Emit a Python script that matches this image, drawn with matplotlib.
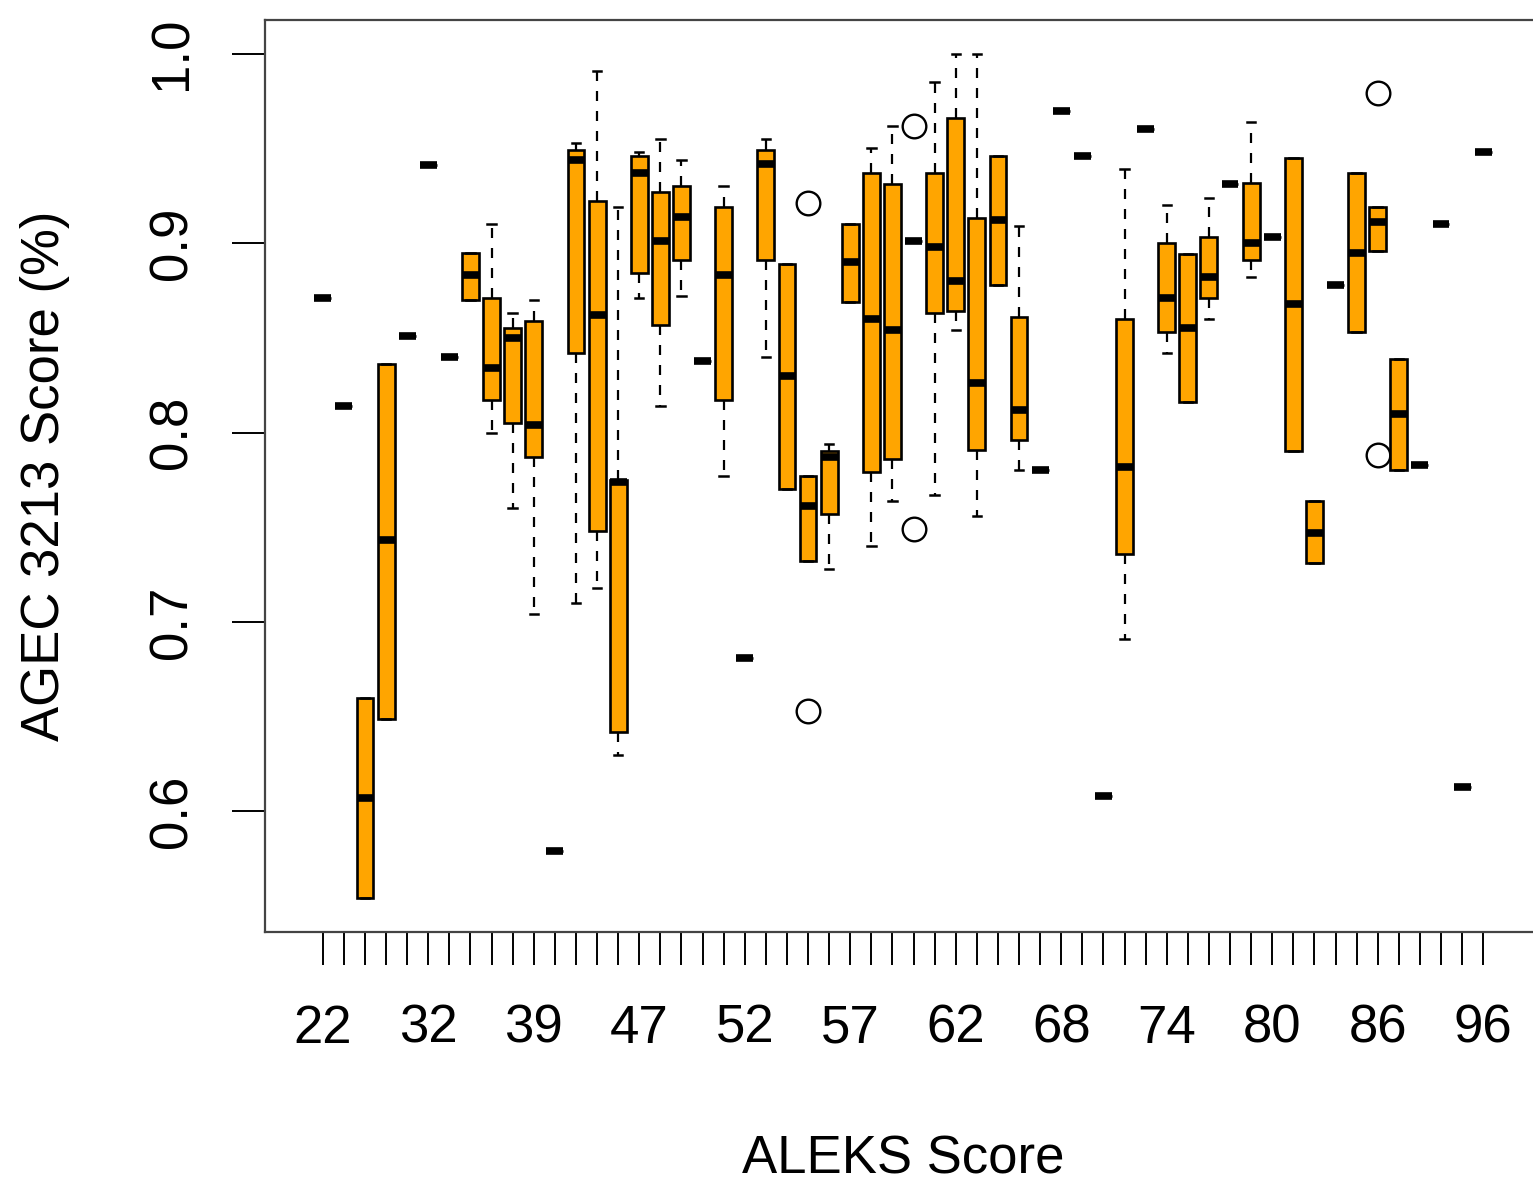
import matplotlib
matplotlib.use("Agg")
import matplotlib.pyplot as plt

plt.rcParams['font.family'] = ['Liberation Sans', 'DejaVu Sans']

# ---- data ----
# 56 ALEKS score groups, positions 1..56; only every 5th label is shown
shown_labels = ["22", "32", "39", "47", "52", "57", "62", "68", "74", "80", "86", "96"]

whislo = [0.871, 0.814, 0.554, 0.649, 0.851, 0.941, 0.840, 0.870, 0.800, 0.760,
          0.704, 0.579, 0.710, 0.718, 0.630, 0.871, 0.814, 0.872, 0.838, 0.777,
          0.681, 0.840, 0.770, 0.732, 0.728, 0.869, 0.740, 0.764, 0.901, 0.767,
          0.854, 0.756, 0.878, 0.780, 0.780, 0.970, 0.946, 0.608, 0.691, 0.960,
          0.842, 0.816, 0.860, 0.931, 0.882, 0.903, 0.790, 0.731, 0.878, 0.853,
          0.896, 0.780, 0.783, 0.910, 0.613, 0.948]
q1 = [0.871, 0.814, 0.554, 0.649, 0.851, 0.941, 0.840, 0.870, 0.817, 0.805,
      0.787, 0.579, 0.842, 0.748, 0.642, 0.884, 0.857, 0.891, 0.838, 0.817,
      0.681, 0.891, 0.770, 0.732, 0.757, 0.869, 0.779, 0.786, 0.901, 0.863,
      0.864, 0.791, 0.878, 0.796, 0.780, 0.970, 0.946, 0.608, 0.736, 0.960,
      0.853, 0.816, 0.871, 0.931, 0.891, 0.903, 0.790, 0.731, 0.878, 0.853,
      0.896, 0.780, 0.783, 0.910, 0.613, 0.948]
med = [0.871, 0.814, 0.607, 0.743, 0.851, 0.941, 0.840, 0.883, 0.834, 0.850,
       0.804, 0.579, 0.944, 0.862, 0.774, 0.937, 0.901, 0.914, 0.838, 0.883,
       0.681, 0.942, 0.830, 0.761, 0.787, 0.890, 0.860, 0.854, 0.901, 0.898,
       0.880, 0.826, 0.912, 0.812, 0.780, 0.970, 0.946, 0.608, 0.782, 0.960,
       0.871, 0.855, 0.882, 0.931, 0.900, 0.903, 0.868, 0.747, 0.878, 0.895,
       0.911, 0.810, 0.783, 0.910, 0.613, 0.948]
q3 = [0.871, 0.814, 0.660, 0.836, 0.851, 0.941, 0.840, 0.895, 0.871, 0.855,
      0.859, 0.579, 0.949, 0.922, 0.775, 0.946, 0.927, 0.930, 0.838, 0.919,
      0.681, 0.949, 0.889, 0.777, 0.790, 0.910, 0.937, 0.931, 0.901, 0.937,
      0.966, 0.913, 0.946, 0.861, 0.780, 0.970, 0.946, 0.608, 0.860, 0.960,
      0.900, 0.894, 0.903, 0.931, 0.932, 0.903, 0.945, 0.764, 0.878, 0.937,
      0.919, 0.839, 0.783, 0.910, 0.613, 0.948]
whishi = [0.871, 0.814, 0.660, 0.836, 0.851, 0.941, 0.840, 0.895, 0.910, 0.863,
          0.870, 0.579, 0.953, 0.991, 0.919, 0.948, 0.955, 0.944, 0.838, 0.930,
          0.681, 0.955, 0.889, 0.777, 0.794, 0.910, 0.950, 0.962, 0.901, 0.985,
          1.000, 1.000, 0.946, 0.909, 0.780, 0.970, 0.946, 0.608, 0.939, 0.960,
          0.920, 0.894, 0.924, 0.931, 0.964, 0.903, 0.945, 0.764, 0.878, 0.937,
          0.919, 0.839, 0.783, 0.910, 0.613, 0.948]
# outliers: group number (1-based) -> values
outliers = {24: [0.921, 0.653], 29: [0.962, 0.749], 51: [0.979, 0.788]}

# ---- figure ----
W, H = 1533, 1183
fig = plt.figure(figsize=(W / 100, H / 100), dpi=100)
ax = fig.add_axes([265 / W, 1 - 932 / H, 1276 / W, 912 / H])

n = len(med)
positions = list(range(1, n + 1))
stats = []
for i in range(n):
    stats.append(dict(med=med[i], q1=q1[i], q3=q3[i], whislo=whislo[i],
                      whishi=whishi[i], fliers=outliers.get(i + 1, [])))

ax.bxp(stats, positions=positions, widths=0.8, capwidths=0.4, patch_artist=True,
       boxprops=dict(facecolor='#FFA500', edgecolor='black', linewidth=1.9),
       medianprops=dict(color='black', linewidth=5.5, solid_capstyle='butt'),
       whiskerprops=dict(color='black', linewidth=1.6, linestyle=(0, (4.5, 4.5))),
       capprops=dict(color='black', linewidth=1.8),
       flierprops=dict(marker='o', markerfacecolor='none', markeredgecolor='black',
                       markersize=17, markeredgewidth=1.7))

ax.set_xlim(0.5 - 0.04 * n, n + 0.5 + 0.04 * n)
ax.set_ylim(0.5363, 1.0178)

ax.set_xticks(positions)
xlabels = [""] * n
for k, lab in enumerate(shown_labels):
    xlabels[k * 5] = lab
ax.set_xticklabels(xlabels)
ax.set_yticks([0.6, 0.7, 0.8, 0.9, 1.0])
ax.set_yticklabels(["0.6", "0.7", "0.8", "0.9", "1.0"])

ax.tick_params(axis='both', direction='out', length=23.5, width=1.4,
               color='black', labelsize=38)
ax.tick_params(axis='x', pad=28)
ax.tick_params(axis='y', pad=25)
for lab in ax.get_yticklabels():
    lab.set_rotation(90)
    lab.set_va('center')

for s in ax.spines.values():
    s.set_color('#444444')
    s.set_linewidth(1.6)

ax.set_xlabel("ALEKS Score", fontsize=38, va='center')
ax.set_ylabel("AGEC 3213 Score (%)", fontsize=38, va='center')
ax.xaxis.set_label_coords(0.5, (932 - 1160) / 912)
ax.yaxis.set_label_coords((45 - 265) / 1276, 0.5)

fig.savefig("out.png", dpi=100)
